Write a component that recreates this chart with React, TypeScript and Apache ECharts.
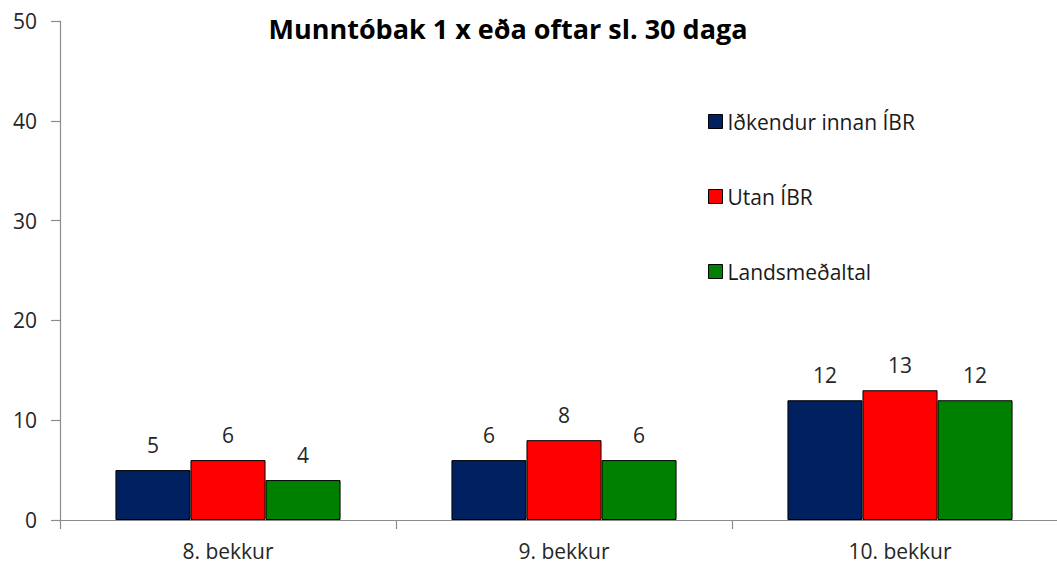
import React, { useEffect, useRef } from "react";
import * as echarts from "echarts";

const categories = ["8. bekkur", "9. bekkur", "10. bekkur"];
const seriesNames = ["Iðkendur innan ÍBR", "Utan ÍBR", "Landsmeðaltal"];
const innan = [5, 6, 12];
const utan = [6, 8, 13];
const lands = [4, 6, 12];
const colors = ["#002060", "#FF0000", "#008000"];
const yTicks = { min: 0, max: 50, interval: 10 };

const FONT = "'Open Sans', 'Noto Sans', sans-serif";

export default function App() {
  const ref = useRef<HTMLDivElement>(null);
  useEffect(() => {
    if (!ref.current) return;
    const chart = echarts.init(ref.current, null, { renderer: "svg" });
    const values = [innan, utan, lands];
    chart.setOption({
      animation: false,
      backgroundColor: "#ffffff",
      textStyle: { fontFamily: FONT },
      title: {
        text: "Munntóbak 1 x eða oftar sl. 30 daga",
        left: 503,
        textAlign: "center",
        top: 10,
        textStyle: { fontFamily: FONT, fontSize: 27, fontWeight: "bold", color: "#000000" },
      },
      legend: {
        orient: "vertical",
        left: 708,
        top: 111,
        padding: 0,
        itemWidth: 14,
        itemHeight: 14,
        itemGap: 54,
        icon: "rect",
        textStyle: { fontFamily: FONT, fontSize: 21, color: "#1a1a1a", padding: [0, 0, 0, 0] },
        itemStyle: { borderColor: "#000000", borderWidth: 1 },
        data: seriesNames,
      },
      grid: {
        left: 60,
        right: -11,
        top: 21,
        bottom: 44,
        containLabel: false,
        outerBoundsMode: "none",
      },
      xAxis: {
        type: "category",
        data: categories,
        axisLine: { lineStyle: { color: "#8c8c8c", width: 1.2 } },
        axisTick: { show: true, length: 9, lineStyle: { color: "#8c8c8c", width: 1.2 } },
        axisLabel: { fontFamily: FONT, fontSize: 21, color: "#262626", margin: 20 },
      },
      yAxis: {
        type: "value",
        min: yTicks.min,
        max: yTicks.max,
        interval: yTicks.interval,
        axisLine: { show: true, lineStyle: { color: "#8c8c8c", width: 1.2 } },
        axisTick: { show: true, length: 9, lineStyle: { color: "#8c8c8c", width: 1.2 } },
        axisLabel: { fontFamily: FONT, fontSize: 21, color: "#262626", margin: 23 },
        splitLine: { show: false },
      },
      series: seriesNames.map((name, i) => ({
        name,
        type: "bar",
        data: values[i],
        barCategoryGap: "33%",
        barGap: "0%",
        itemStyle: { color: colors[i], borderColor: "#000000", borderWidth: 1 },
        label: {
          show: true,
          position: "top",
          distance: 15,
          fontFamily: FONT,
          fontSize: 21,
          color: "#262626",
        },
      })),
    });
    return () => chart.dispose();
  }, []);
  return (
    <div
      ref={ref}
      style={{ position: "fixed", left: 0, top: 0, width: 1057, height: 564 }}
    />
  );
}
